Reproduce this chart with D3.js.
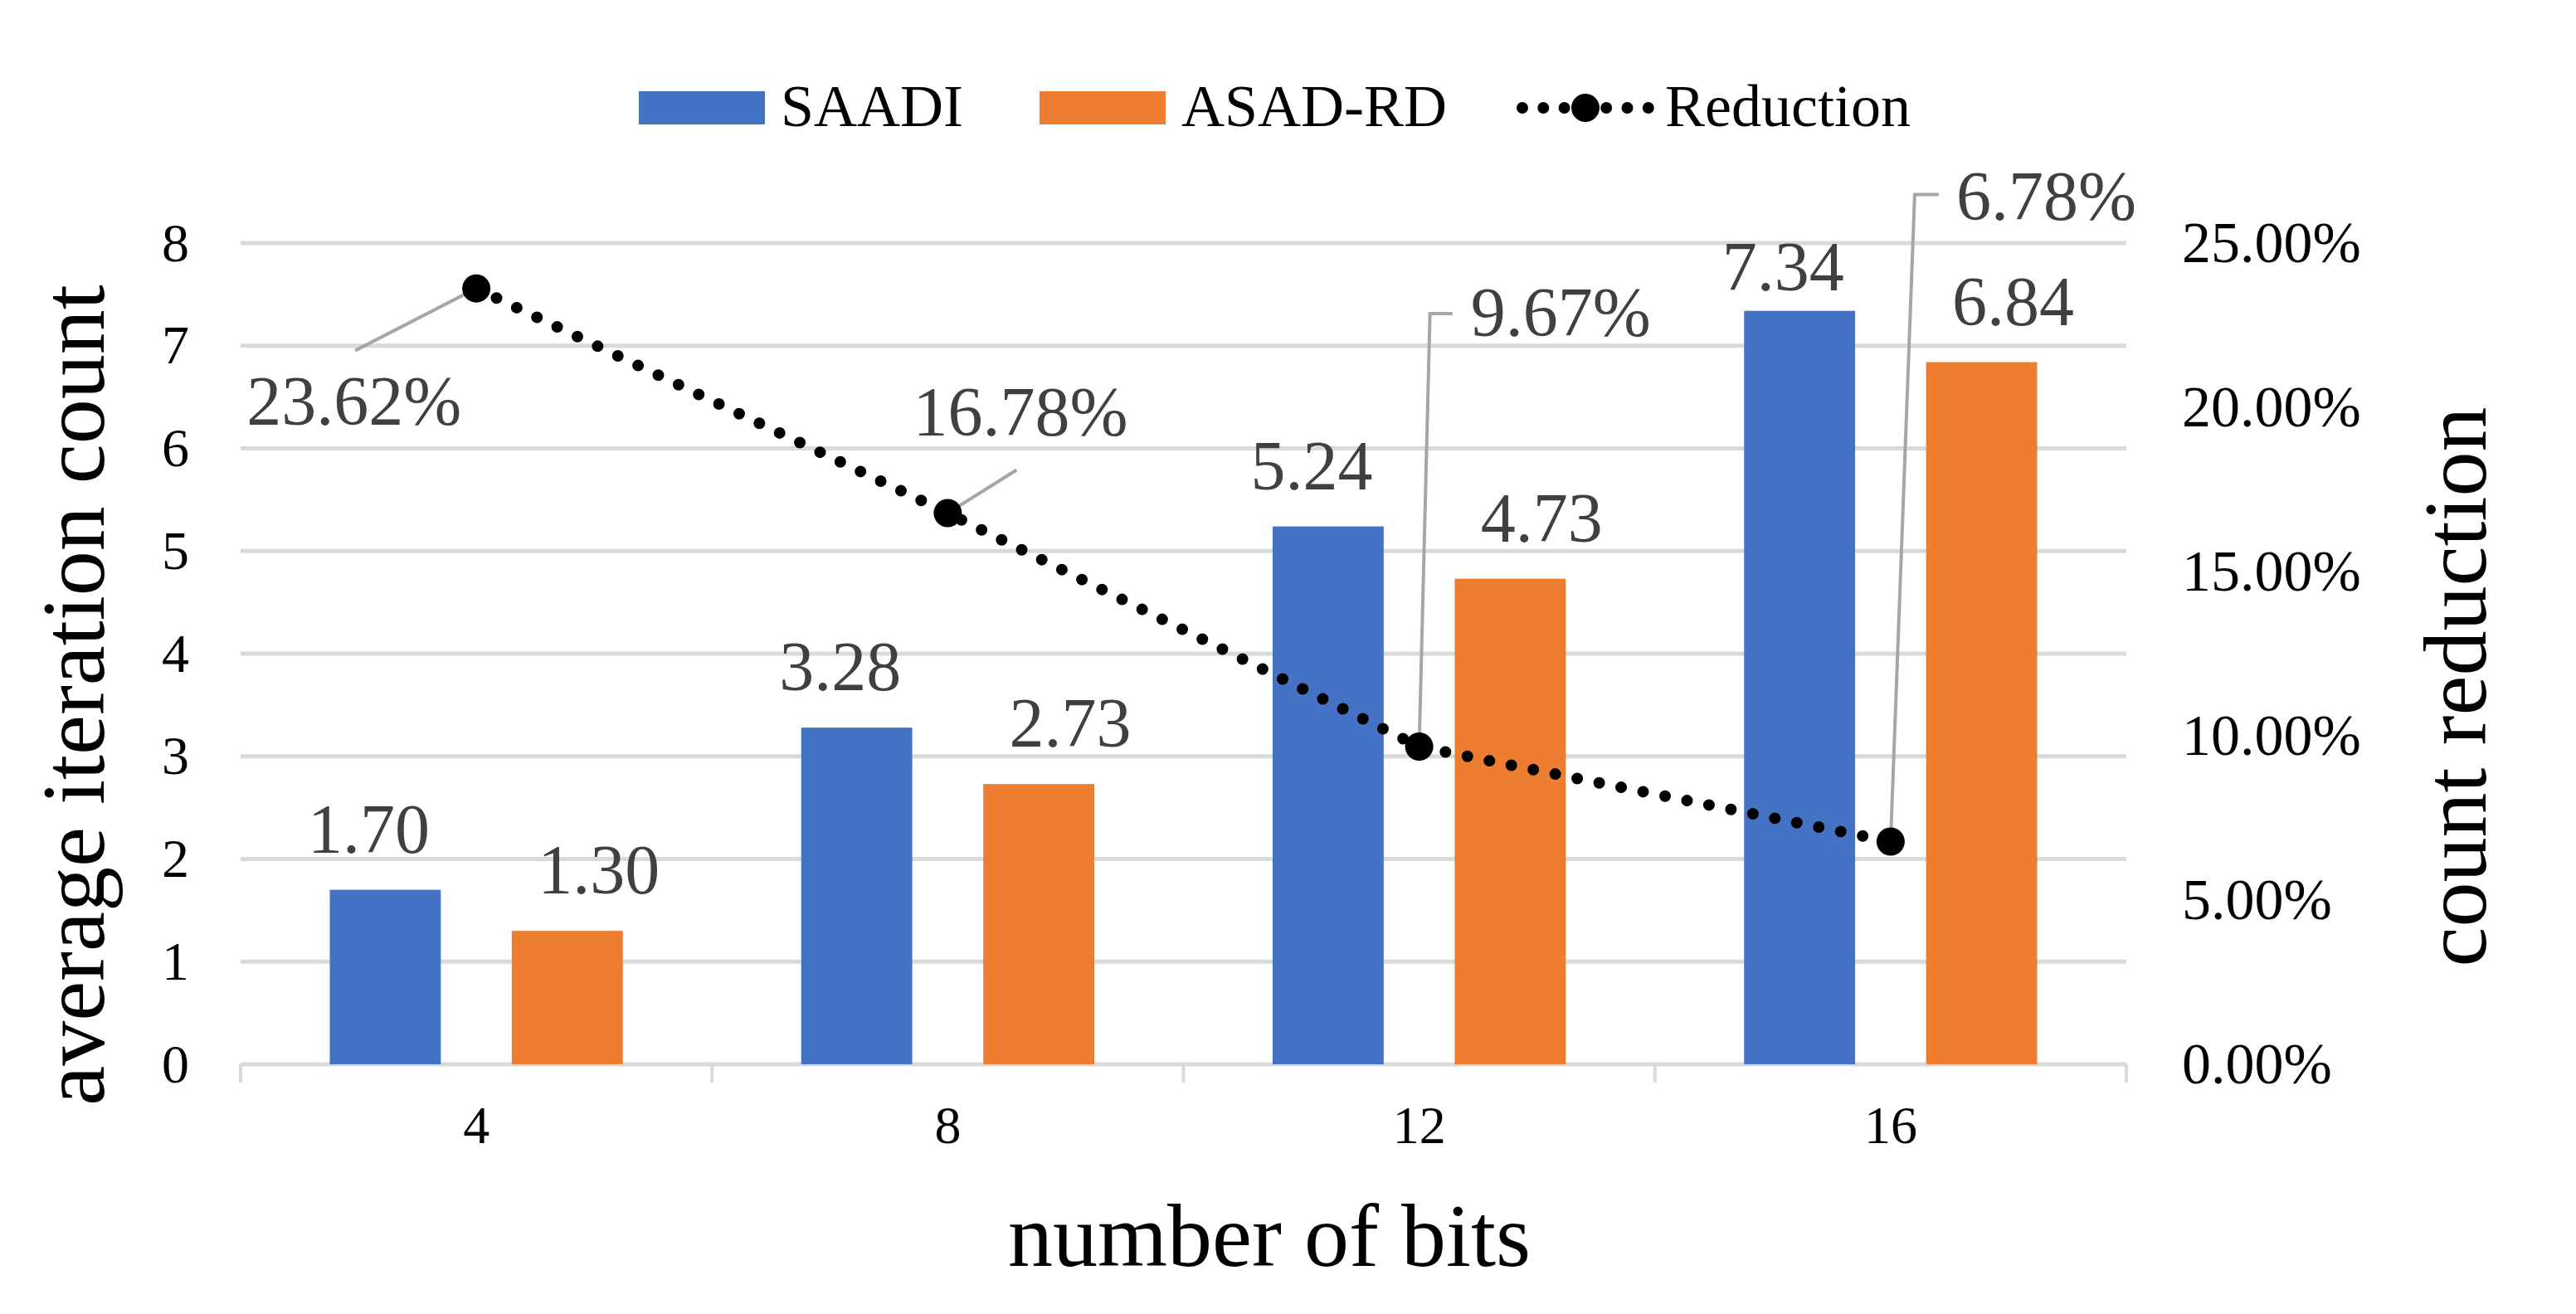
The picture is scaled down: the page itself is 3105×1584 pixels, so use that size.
<!DOCTYPE html>
<head>
  <meta charset="utf-8">
  <title>average iteration count vs number of bits</title>
  <script src="https://d3js.org/d3.v7.min.js"></script>
  <style>
    body { margin: 0; background: #fff; }
    text { font-family: "Liberation Serif", "Times New Roman", serif; }
  </style>
</head>
<body>
  <div id="chart"></div>
  <script>
    // data
    var bits = ["4", "8", "12", "16"];
    var seriesNames = ["SAADI", "ASAD-RD"];
    var saadi = [1.70, 3.28, 5.24, 7.34];
    var asadRd = [1.30, 2.73, 4.73, 6.84];
    var reduction = [0.2362, 0.1678, 0.0967, 0.0678];
    var leftTicks = [0, 1, 2, 3, 4, 5, 6, 7, 8];
    var rightTicks = [0, 0.05, 0.10, 0.15, 0.20, 0.25];

    var colors = { "SAADI": "#4472C4", "ASAD-RD": "#ED7D31" };

    var width = 3105, height = 1584;
    var plotLeft = 290, plotRight = 2563, plotTop = 293, plotBottom = 1283;

    var svg = d3.select("#chart").append("svg")
      .attr("width", width)
      .attr("height", height);

    var x0 = d3.scaleBand().domain(bits).range([plotLeft, plotRight]);
    var x1 = d3.scaleBand().domain(seriesNames).range([0, x0.bandwidth()])
      .paddingInner(0.39).paddingOuter(0.49);
    var y = d3.scaleLinear().domain([0, 8]).range([plotBottom, plotTop]);
    var y2 = d3.scaleLinear().domain([0, 0.25]).range([plotBottom, plotTop]);

    // gridlines
    svg.append("g")
      .selectAll("line")
      .data(leftTicks)
      .enter()
      .append("line")
      .attr("x1", plotLeft).attr("x2", plotRight)
      .attr("y1", d => y(d)).attr("y2", d => y(d))
      .attr("stroke", "#d9d9d9")
      .attr("stroke-width", 5);

    // category tick marks under the axis
    var edges = bits.map(d => x0(d)).concat([plotRight]);
    svg.append("g")
      .selectAll("line")
      .data(edges)
      .enter()
      .append("line")
      .attr("x1", d => d).attr("x2", d => d)
      .attr("y1", plotBottom).attr("y2", plotBottom + 22)
      .attr("stroke", "#d9d9d9")
      .attr("stroke-width", 4);

    // axes
    var gLeft = svg.append("g")
      .attr("transform", "translate(" + plotLeft + ",0)")
      .call(d3.axisLeft(y).tickValues(leftTicks).tickSize(0).tickPadding(62).tickFormat(d3.format("d")));
    var gRight = svg.append("g")
      .attr("transform", "translate(" + plotRight + ",0)")
      .call(d3.axisRight(y2).tickValues(rightTicks).tickSize(0).tickPadding(67).tickFormat(d3.format(".2%")));
    var gBottom = svg.append("g")
      .attr("transform", "translate(0," + plotBottom + ")")
      .call(d3.axisBottom(x0).tickSize(0).tickPadding(50));

    [gLeft, gRight, gBottom].forEach(function(g) {
      g.select(".domain").remove();
      g.selectAll("text")
        .style("font-family", "Liberation Serif")
        .attr("fill", "#000");
    });
    gLeft.selectAll("text").style("font-size", "66px");
    gRight.selectAll("text").style("font-size", "70px");
    gBottom.selectAll("text").style("font-size", "64px");

    // bars
    var rows = bits.map((b, i) => ({ bits: b, values: [
      { name: "SAADI", value: saadi[i] },
      { name: "ASAD-RD", value: asadRd[i] }
    ]}));

    var groups = svg.append("g")
      .selectAll("g")
      .data(rows)
      .enter()
      .append("g")
      .attr("transform", d => "translate(" + x0(d.bits) + ",0)");

    groups.selectAll("rect")
      .data(d => d.values)
      .enter()
      .append("rect")
      .attr("x", d => x1(d.name))
      .attr("width", x1.bandwidth())
      .attr("y", d => y(d.value))
      .attr("height", d => plotBottom - y(d.value))
      .attr("fill", d => colors[d.name]);

    // bar value labels (kept inside the plot top)
    var labelShift = { "SAADI": -20, "ASAD-RD": 38 };
    groups.selectAll("text")
      .data(d => d.values)
      .enter()
      .append("text")
      .attr("x", d => x1(d.name) + x1.bandwidth() / 2 + labelShift[d.name])
      .attr("y", d => Math.max(y(d.value) - 45, plotTop + 57))
      .attr("text-anchor", "middle")
      .style("font-size", "84px")
      .attr("fill", "#404040")
      .text(d => d.value.toFixed(2));

    // reduction line
    var pts = bits.map((b, i) => [x0(b) + x0.bandwidth() / 2, y2(reduction[i])]);
    svg.append("path")
      .attr("d", d3.line()(pts))
      .attr("fill", "none")
      .attr("stroke", "#000")
      .attr("stroke-width", 14)
      .attr("stroke-linecap", "round")
      .attr("stroke-dasharray", "0 27");

    // callout layout for the reduction labels (offsets from the marker)
    var callouts = [
      { leader: [[0, 0], [-146, 75]], dx: -277, dy: 164 },
      { leader: [[0, 0], [83, -52]], dx: -42, dy: -94 },
      { leader: [[0, 0], [13, -522], [40, -522]], dx: 62, dy: -495 },
      { leader: [[0, 0], [29, -780], [58, -780]], dx: 79, dy: -750 }
    ];

    var call = svg.append("g")
      .selectAll("g")
      .data(pts)
      .enter()
      .append("g")
      .attr("transform", d => "translate(" + d[0] + "," + d[1] + ")");

    call.append("path")
      .attr("d", (d, i) => d3.line()(callouts[i].leader))
      .attr("fill", "none")
      .attr("stroke", "#a6a6a6")
      .attr("stroke-width", 4);

    call.append("circle")
      .attr("r", 17)
      .attr("fill", "#000");

    call.append("text")
      .attr("x", (d, i) => callouts[i].dx)
      .attr("y", (d, i) => callouts[i].dy)
      .style("font-size", "84px")
      .attr("fill", "#404040")
      .text((d, i) => d3.format(".2%")(reduction[i]));

    // axis titles
    svg.append("text")
      .attr("transform", "translate(125,838) rotate(-90)")
      .attr("text-anchor", "middle")
      .style("font-size", "108px")
      .attr("fill", "#000")
      .text("average iteration count");

    svg.append("text")
      .attr("transform", "translate(2996,828) rotate(-90)")
      .attr("text-anchor", "middle")
      .style("font-size", "108px")
      .attr("fill", "#000")
      .text("count reduction");

    svg.append("text")
      .attr("x", 1530)
      .attr("y", 1526)
      .attr("text-anchor", "middle")
      .style("font-size", "108px")
      .attr("fill", "#000")
      .text("number of bits");

    // legend
    var legend = svg.append("g");
    var legendX = [770, 1253];
    seriesNames.forEach(function(name, i) {
      legend.append("rect")
        .attr("x", legendX[i]).attr("y", 110)
        .attr("width", 152).attr("height", 40)
        .attr("fill", colors[name]);
      legend.append("text")
        .attr("x", legendX[i] + 171).attr("y", 152)
        .style("font-size", "72px")
        .attr("fill", "#000")
        .text(name);
    });
    legend.append("line")
      .attr("x1", 1835).attr("x2", 1987)
      .attr("y1", 130).attr("y2", 130)
      .attr("stroke", "#000")
      .attr("stroke-width", 14)
      .attr("stroke-linecap", "round")
      .attr("stroke-dasharray", "0 25.3");
    legend.append("circle")
      .attr("cx", 1911).attr("cy", 130).attr("r", 17)
      .attr("fill", "#000");
    legend.append("text")
      .attr("x", 2007).attr("y", 152)
      .style("font-size", "72px")
      .attr("fill", "#000")
      .text("Reduction");
  </script>
</body>
</html>
